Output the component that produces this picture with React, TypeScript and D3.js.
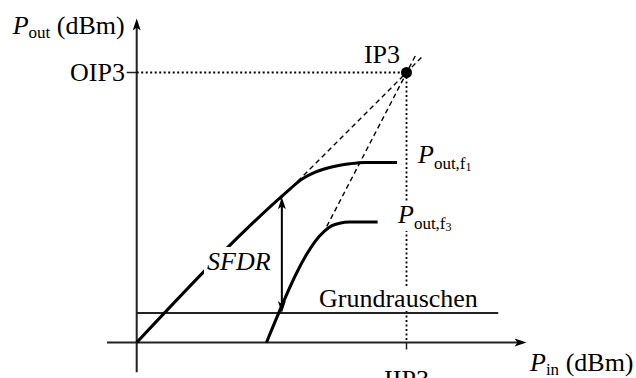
import React from "react";
import * as d3 from "d3";

// Curve data (P_in, P_out) in relative dB units
const pinF1 = [0, 5.7, 6.05, 6.6, 7.15, 7.9, 8.45, 9.65];
const poutF1 = [0, 5.7, 6.0, 6.3, 6.48, 6.62, 6.67, 6.67];
const pinF3 = [4.81, 6.95, 7.22, 7.52, 7.9, 8.93];
const poutF3 = [0, 4.12, 4.32, 4.42, 4.46, 4.46];
const asymF1In = [5.3, 10.6];
const asymF1Out = [5.3, 10.6];
const asymF3In = [6.9, 10.35];
const asymF3Out = [4.02, 10.66];
const ip3 = [10, 10];
const noiseFloor = 1.095;
const noiseSpan = [0, 13.4];
const sfdrIn = 5.38;
const xAxisSpan = [-1.1, 14.45];
const yAxisSpan = [-1.1, 12.0];

const W = 636;
const H = 378;
const FONT = "'Liberation Serif', 'Times New Roman', serif";

export default function App() {
  const x = d3.scaleLinear().domain([0, 10]).range([136.7, 406.5]);
  const y = d3.scaleLinear().domain([0, 10]).range([342.5, 72.5]);
  const line = d3
    .line<[number, number]>()
    .x((d) => x(d[0]))
    .y((d) => y(d[1]))
    .curve(d3.curveMonotoneX);
  const straight = d3
    .line<[number, number]>()
    .x((d) => x(d[0]))
    .y((d) => y(d[1]));
  const f1 = pinF1.map((p, i) => [p, poutF1[i]] as [number, number]);
  const f3 = pinF3.map((p, i) => [p, poutF3[i]] as [number, number]);
  const a1 = asymF1In.map((p, i) => [p, asymF1Out[i]] as [number, number]);
  const a3 = asymF3In.map((p, i) => [p, asymF3Out[i]] as [number, number]);

  const x0 = x(0);
  const y0 = y(0);
  const xTip = x(xAxisSpan[1]);
  const yTip = y(yAxisSpan[1]);
  const ipx = x(ip3[0]);
  const ipy = y(ip3[1]);
  const sx = x(sfdrIn);
  const sTop = y(sfdrIn);
  const sBot = y(noiseFloor);
  const nfy = y(noiseFloor);
  const f1y = y(poutF1[poutF1.length - 1]);
  const f3y = y(poutF3[poutF3.length - 1]);
  const axisCol = "#222";

  return (
    <svg
      width={W}
      height={H}
      style={{ position: "absolute", left: 0, top: 0, background: "#fff" }}
      fontFamily={FONT}
    >
      {/* axes */}
      <line x1={x(xAxisSpan[0])} y1={y0} x2={xTip - 8} y2={y0} stroke={axisCol} strokeWidth={2} />
      <path d={`M${xTip},${y0} L${xTip - 12},${y0 - 4} L${xTip - 9},${y0} L${xTip - 12},${y0 + 4} Z`} fill="#000" />
      <line x1={x0} y1={y(yAxisSpan[0])} x2={x0} y2={yTip + 8} stroke={axisCol} strokeWidth={2} />
      <path d={`M${x0},${yTip} L${x0 - 4},${yTip + 12} L${x0},${yTip + 9} L${x0 + 4},${yTip + 12} Z`} fill="#000" />

      {/* ticks */}
      <line x1={x0 - 10} y1={ipy} x2={x0} y2={ipy} stroke={axisCol} strokeWidth={1.5} />
      <line x1={ipx} y1={y0} x2={ipx} y2={y0 + 7} stroke={axisCol} strokeWidth={1.5} />

      {/* dotted IP3 guides */}
      <line x1={x0} y1={ipy} x2={ipx} y2={ipy} stroke="#000" strokeWidth={1.8} strokeDasharray="2,2.5" />
      <line x1={ipx} y1={ipy} x2={ipx} y2={y0} stroke="#000" strokeWidth={1.8} strokeDasharray="2,2.5" />

      {/* noise floor */}
      <line x1={x(noiseSpan[0])} y1={nfy} x2={x(noiseSpan[1])} y2={nfy} stroke={axisCol} strokeWidth={2} />

      {/* asymptotes */}
      <path d={straight(a1) || ""} fill="none" stroke="#000" strokeWidth={1.4} strokeDasharray="5,3.5" />
      <path d={straight(a3) || ""} fill="none" stroke="#000" strokeWidth={1.4} strokeDasharray="5,3.5" />

      {/* curves */}
      <path d={line(f1) || ""} fill="none" stroke="#000" strokeWidth={3} strokeLinecap="butt" />
      <path d={line(f3) || ""} fill="none" stroke="#000" strokeWidth={3} strokeLinecap="butt" />

      {/* IP3 point */}
      <circle cx={ipx} cy={ipy} r={5.5} fill="#000" />

      {/* SFDR arrow */}
      <line x1={sx} y1={sTop + 8} x2={sx} y2={sBot - 8} stroke="#000" strokeWidth={2} />
      <path d={`M${sx},${sTop} L${sx - 4},${sTop + 12} L${sx},${sTop + 9} L${sx + 4},${sTop + 12} Z`} fill="#000" />
      <path d={`M${sx},${sBot} L${sx - 4},${sBot - 12} L${sx},${sBot - 9} L${sx + 4},${sBot - 12} Z`} fill="#000" />

      {/* text backgrounds (labels in the original sit on white boxes) */}
      <rect x={204} y={247} width={70} height={27} fill="#fff" />
      <rect x={317} y={nfy - 27} width={164} height={25} fill="#fff" />
      <rect x={396} y={f3y - 19} width={62} height={28} fill="#fff" />

      {/* labels */}
      <text x={12.7} y={33.5} fontSize={26}>
        <tspan fontStyle="italic">P</tspan>
        <tspan fontSize={17} dy={4}>out</tspan>
        <tspan dy={-4}> (dBm)</tspan>
      </text>
      <text x={125} y={ipy + 8.8} fontSize={26} textAnchor="end">OIP3</text>
      <text x={400} y={63} fontSize={26} textAnchor="end">IP3</text>
      <text x={ipx} y={387.5} fontSize={26} textAnchor="middle">IIP3</text>
      <text x={530} y={370.5} fontSize={26}>
        <tspan fontStyle="italic">P</tspan>
        <tspan fontSize={17} dy={4}>in</tspan>
        <tspan dy={-4}> (dBm)</tspan>
      </text>
      <text x={319} y={nfy - 6} fontSize={26}>Grundrauschen</text>
      <text x={207} y={269.5} fontSize={26} fontStyle="italic">SFDR</text>
      <text x={418} y={f1y + 1} fontSize={26}>
        <tspan fontStyle="italic">P</tspan>
        <tspan fontSize={17} dy={6}>out,f</tspan>
        <tspan fontSize={12} dy={2}>1</tspan>
      </text>
      <text x={398} y={f3y + 0.5} fontSize={26}>
        <tspan fontStyle="italic">P</tspan>
        <tspan fontSize={17} dy={6}>out,f</tspan>
        <tspan fontSize={12} dy={2}>3</tspan>
      </text>
    </svg>
  );
}
